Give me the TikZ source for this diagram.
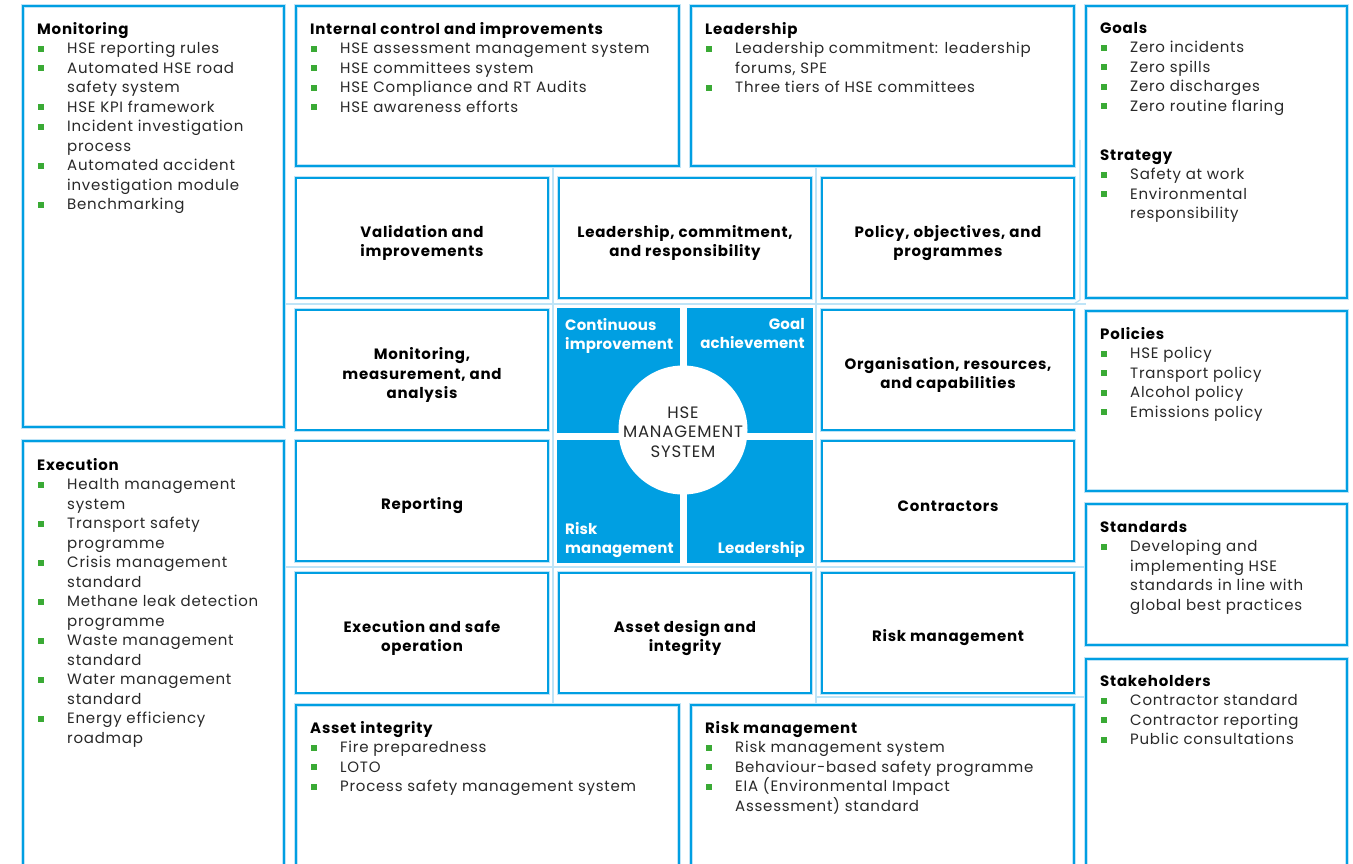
\documentclass[tikz,border=0pt]{standalone}
\usepackage{fontspec}
\setmainfont{Poppins}[LetterSpace=5]
\definecolor{hseblue}{RGB}{0,159,226}
\definecolor{hsepale}{RGB}{190,228,247}
\definecolor{hsegreen}{RGB}{58,170,53}
\definecolor{hsetext}{RGB}{40,40,40}
\newcommand\bul{\makebox[30pt][l]{\hspace*{1pt}\textcolor{hsegreen}{\rule[2pt]{6pt}{6pt}}}}
\newcommand\ind{\hspace*{30pt}}
\newcommand\ttl[1]{\textcolor{black}{\bfseries #1}}
\tikzset{
  boxline/.style={draw=hseblue, line width=2.2pt, preaction={draw=hsepale, line width=4.2pt}},
  cell/.style={boxline, fill=white, minimum width=252pt, minimum height=120pt, inner sep=0pt},
  celltext/.style={inner sep=0pt, align=center, font=\fontsize{15}{19.5}\selectfont\bfseries, text=black},
  listtext/.style={anchor=north west, inner sep=0pt, align=left, text=hsetext,
    font=\fontsize{15}{19.5}\selectfont},
  quadtext/.style={inner sep=0pt, text=white,
    font=\fontsize{15}{19.5}\selectfont\bfseries\addfontfeature{LetterSpace=1}},
  faint/.style={draw=hsepale, line width=1.2pt},
}
\begin{document}
\begin{tikzpicture}[x=1pt,y=-1pt]
\useasboundingbox[fill=white] (0,0) rectangle (1353,864);
\clip (0,0) rectangle (1353,864);
% faint connecting lines
\draw[faint] (284,304) -- (1086,304);
\draw[faint] (284,567) -- (1086,567);
\draw[faint] (553,166) -- (553,705);
\draw[faint] (816,166) -- (816,705);
\draw[faint] (1080,140) -- (1080,300) -- (1074,304);
\draw[faint] (816,697) -- (1086,697);
% outer boxes
\draw[boxline] (23,6) rectangle (284,427);
\draw[boxline] (23,441) rectangle (284,880);
\draw[boxline] (296,6) rectangle (679,166);
\draw[boxline] (691,6) rectangle (1074,166);
\draw[boxline] (1086,6) rectangle (1347,298);
\draw[boxline] (1086,311) rectangle (1347,491);
\draw[boxline] (1086,504) rectangle (1347,645);
\draw[boxline] (1086,659) rectangle (1347,880);
\draw[boxline] (296,705) rectangle (679,880);
\draw[boxline] (691,705) rectangle (1074,880);
% outer box texts
\node[listtext] (tmon) at (37,22) {\ttl{Monitoring}\\
\bul HSE reporting rules\\
\bul Automated HSE road\\
\ind safety system\\
\bul HSE KPI framework\\
\bul Incident investigation\\
\ind process\\
\bul Automated accident\\
\ind investigation module\\
\bul Benchmarking};
\node[listtext] (texe) at (37,458) {\ttl{Execution}\\
\bul Health management\\
\ind system\\
\bul Transport safety\\
\ind programme\\
\bul Crisis management\\
\ind standard\\
\bul Methane leak detection\\
\ind programme\\
\bul Waste management\\
\ind standard\\
\bul Water management\\
\ind standard\\
\bul Energy efficiency\\
\ind roadmap};
\node[listtext] (tint) at (310,22) {\ttl{Internal control and improvements}\\
\bul HSE assessment management system\\
\bul HSE committees system\\
\bul HSE Compliance and RT Audits\\
\bul HSE awareness efforts};
\node[listtext] (tlead) at (705,22) {\ttl{Leadership}\\
\bul Leadership commitment: leadership\\
\ind forums, SPE\\
\bul Three tiers of HSE committees};
\node[listtext] (tgoal) at (1100,22) {\ttl{Goals}\\
\bul Zero incidents\\
\bul Zero spills\\
\bul Zero discharges\\
\bul Zero routine flaring\\[29.5pt]
\ttl{Strategy}\\
\bul Safety at work\\
\bul Environmental\\
\ind responsibility};
\node[listtext] (tpol) at (1100,327) {\ttl{Policies}\\
\bul HSE policy\\
\bul Transport policy\\
\bul Alcohol policy\\
\bul Emissions policy};
\node[listtext] (tstd) at (1100,521) {\ttl{Standards}\\
\bul Developing and\\
\ind implementing HSE\\
\ind standards in line with\\
\ind global best practices};
\node[listtext] (tstk) at (1100,675) {\ttl{Stakeholders}\\
\bul Contractor standard\\
\bul Contractor reporting\\
\bul Public consultations};
\node[listtext] (tasset) at (310,721) {\ttl{Asset integrity}\\
\bul Fire preparedness\\
\bul LOTO\\
\bul Process safety management system};
\node[listtext] (trisk) at (705,721) {\ttl{Risk management}\\
\bul Risk management system\\
\bul Behaviour-based safety programme\\
\bul EIA (Environmental Impact\\
\ind Assessment) standard};
% grid cells
\node[cell] (val) at (422,238) {};
\node[cell] (lcr) at (685,238) {};
\node[cell] (pol) at (948,238) {};
\node[cell] (mon) at (422,370) {};
\node[cell] (org) at (948,370) {};
\node[cell] (rep) at (422,501) {};
\node[cell] (con) at (948,501) {};
\node[cell] (exe) at (422,633) {};
\node[cell] (ass) at (685,633) {};
\node[cell] (rsk) at (948,633) {};
\node[celltext] (valt) at ([yshift=-5pt]val.center) {Validation and\\improvements};
\node[celltext] (lcrt) at ([yshift=-5pt]lcr.center) {Leadership, commitment,\\and responsibility};
\node[celltext] (polt) at ([yshift=-5pt]pol.center) {Policy, objectives, and\\programmes};
\node[celltext] (mont) at ([yshift=-5pt]mon.center) {Monitoring,\\measurement, and\\analysis};
\node[celltext] (orgt) at ([yshift=-5pt]org.center) {Organisation, resources,\\and capabilities};
\node[celltext] (rept) at ([yshift=-5pt]rep.center) {Reporting};
\node[celltext] (cont) at ([yshift=-5pt]con.center) {Contractors};
\node[celltext] (exet) at ([yshift=-5pt]exe.center) {Execution and safe\\operation};
\node[celltext] (asst) at ([yshift=-5pt]ass.center) {Asset design and\\integrity};
\node[celltext] (rskt) at ([yshift=-5pt]rsk.center) {Risk management};
% centre quadrants
\fill[hseblue] (557,308) rectangle (680,433);
\fill[hseblue] (687,308) rectangle (813,433);
\fill[hseblue] (557,440) rectangle (680,563);
\fill[hseblue] (687,440) rectangle (813,563);
\node[quadtext, anchor=north west, align=left] (qci) at (565,318) {Continuous\\improvement};
\node[quadtext, anchor=north east, align=right] (qga) at (805,318) {Goal\\achievement};
\node[quadtext, anchor=south west, align=left] (qrm) at (565,558) {Risk\\management};
\node[quadtext, anchor=south east, align=right] (qld) at (805,558) {Leadership};
\node[circle, fill=white, minimum size=129pt, inner sep=0pt] (hse) at (683,430) {};
\node[inner sep=0pt, align=center, text=hsetext, font=\fontsize{16.5}{19.5}\selectfont]
  (hset) at ([yshift=-2pt]hse.center) {HSE\\MANAGEMENT\\SYSTEM};
\end{tikzpicture}
\end{document}
